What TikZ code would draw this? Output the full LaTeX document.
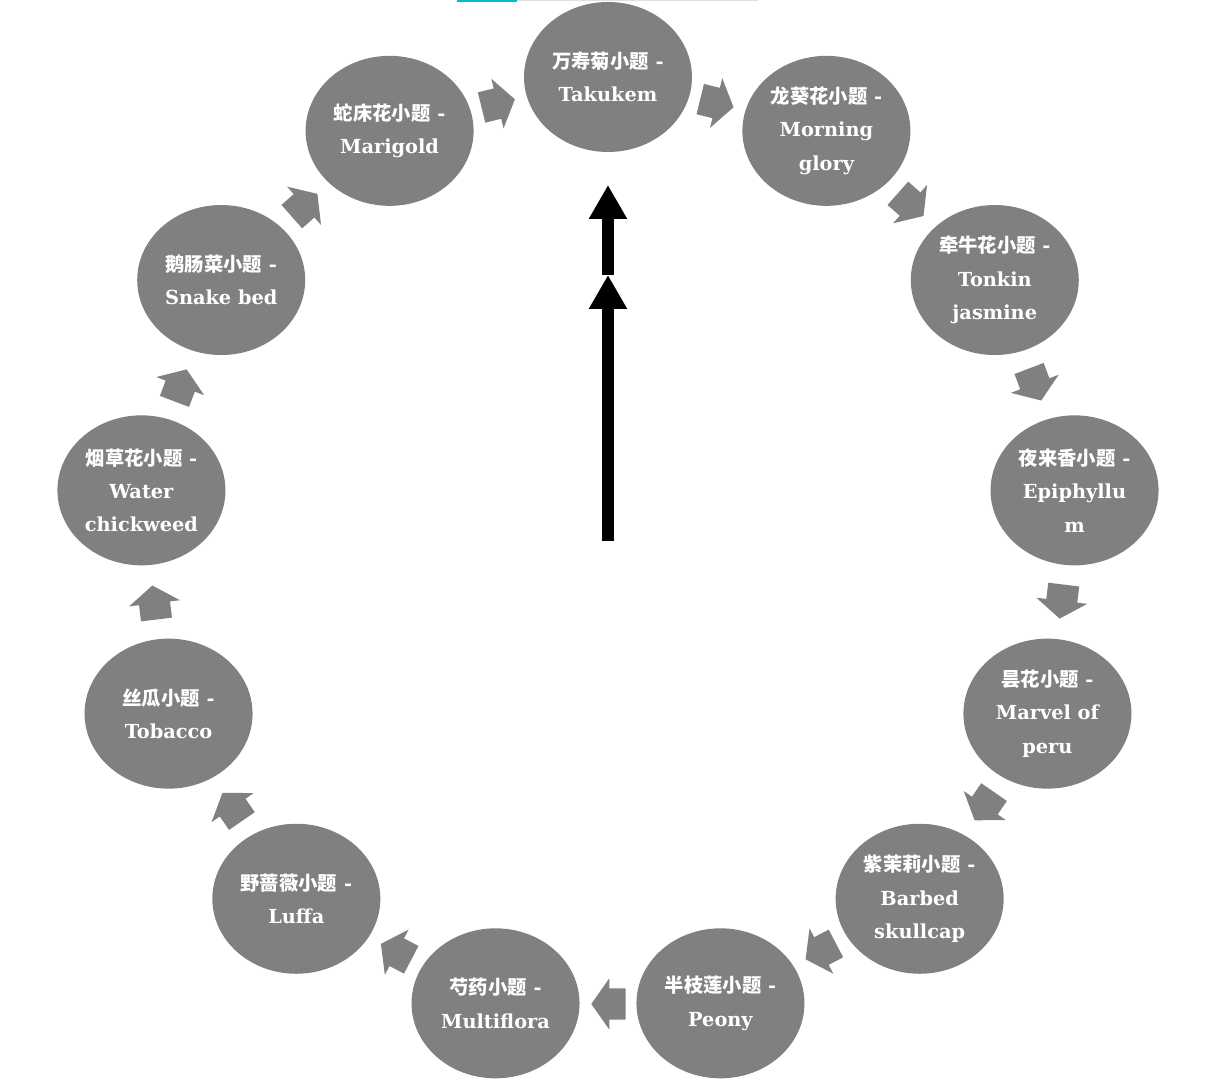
\documentclass[tikz,border=0pt]{standalone}
\usepackage{fontspec}
\setmainfont{DejaVu Serif}
\newfontfamily\cjk{Noto Sans CJK SC}
\usetikzlibrary{shapes.geometric}
\usetikzlibrary{shapes.arrows}
\usetikzlibrary{arrows.meta}

\definecolor{topicgray}{RGB}{128,128,128}
\definecolor{barcyan}{RGB}{0,188,212}
\definecolor{barlight}{RGB}{224,224,224}

\tikzset{
  topic/.style={ellipse, fill=topicgray, minimum width=126pt, minimum height=112.5pt,
    inner sep=0pt, text=white, align=center, font=\bfseries\fontsize{14.5}{25}\selectfont},
  flow/.style={single arrow, fill=topicgray, inner xsep=0pt, inner ysep=11.5pt, anchor=tip,
    minimum height=25.7pt, single arrow head extend=7.5pt, single arrow tip angle=110},
  rise/.style={line width=9pt, -{Triangle[length=25.5pt,width=27pt]}}
}

\begin{document}
\begin{tikzpicture}[x=0.75pt, y=0.75pt]
    \useasboundingbox (-608,-533) rectangle (600,547);
% bar at the top
    \fill[barcyan] (-151,545) rectangle (-91,547);
    \fill[barlight] (-91,545.5) rectangle (150,547);
% topics
    \node[topic] (wanshouju) at (90:470) {{\cjk 万寿菊小题} -\\Takukem} ; %
    \node[topic] (longkui) at ({90-1*360/13}:470) {{\cjk 龙葵花小题} -\\Morning\\glory} ; %
    \node[topic] (qianniu) at ({90-2*360/13}:470) {{\cjk 牵牛花小题} -\\Tonkin\\jasmine} ; %
    \node[topic] (yelaixiang) at ({90-3*360/13}:470) {{\cjk 夜来香小题} -\\Epiphyllu\\m} ; %
    \node[topic] (tanhua) at ({90-4*360/13}:470) {{\cjk 昙花小题} -\\Marvel of\\peru} ; %
    \node[topic] (zimoli) at ({90-5*360/13}:470) {{\cjk 紫茉莉小题} -\\Barbed\\skullcap} ; %
    \node[topic] (banzhilian) at ({90-6*360/13}:470) {{\cjk 半枝莲小题} -\\Peony} ; %
    \node[topic] (shaoyao) at ({90-7*360/13}:470) {{\cjk 芍药小题} -\\Multiflora} ; %
    \node[topic] (yeqiangwei) at ({90-8*360/13}:470) {{\cjk 野蔷薇小题} -\\Luffa} ; %
    \node[topic] (sigua) at ({90-9*360/13}:470) {{\cjk 丝瓜小题} -\\Tobacco} ; %
    \node[topic] (yancao) at ({90-10*360/13}:470) {{\cjk 烟草花小题} -\\Water\\chickweed} ; %
    \node[topic] (echangcai) at ({90-11*360/13}:470) {{\cjk 鹅肠菜小题} -\\Snake bed} ; %
    \node[topic] (shechuang) at ({90-12*360/13}:470) {{\cjk 蛇床花小题} -\\Marigold} ; %
% arrows between topics (placed by their tips)
    \node[flow, rotate={-0.5*360/13}] (flow1) at ({90-0.5*360/13-2.13}:457.3) {} ; %
    \node[flow, rotate={-1.5*360/13}] (flow2) at ({90-1.5*360/13-2.13}:457.3) {} ; %
    \node[flow, rotate={-2.5*360/13}] (flow3) at ({90-2.5*360/13-2.13}:457.3) {} ; %
    \node[flow, rotate={-3.5*360/13}] (flow4) at ({90-3.5*360/13-2.13}:457.3) {} ; %
    \node[flow, rotate={-4.5*360/13}] (flow5) at ({90-4.5*360/13-2.13}:457.3) {} ; %
    \node[flow, rotate={-5.5*360/13}] (flow6) at ({90-5.5*360/13-2.13}:457.3) {} ; %
    \node[flow, rotate={-6.5*360/13}] (flow7) at ({90-6.5*360/13-2.13}:457.3) {} ; %
    \node[flow, rotate={-7.5*360/13}] (flow8) at ({90-7.5*360/13-2.13}:457.3) {} ; %
    \node[flow, rotate={-8.5*360/13}] (flow9) at ({90-8.5*360/13-2.13}:457.3) {} ; %
    \node[flow, rotate={-9.5*360/13}] (flow10) at ({90-9.5*360/13-2.13}:457.3) {} ; %
    \node[flow, rotate={-10.5*360/13}] (flow11) at ({90-10.5*360/13-2.13}:457.3) {} ; %
    \node[flow, rotate={-11.5*360/13}] (flow12) at ({90-11.5*360/13-2.13}:457.3) {} ; %
    \node[flow, rotate={-12.5*360/13}] (flow13) at ({90-12.5*360/13-2.13}:457.3) {} ; %
% centre arrow
    \coordinate (stem) at (0,6) ; %
    \coordinate (middle) at (0,272) ; %
    \coordinate (peak) at (0,362) ; %
    \draw[rise] (stem) -- (middle) ; %
    \draw[rise] (middle) -- (peak) ; %
\end{tikzpicture}
\end{document}
